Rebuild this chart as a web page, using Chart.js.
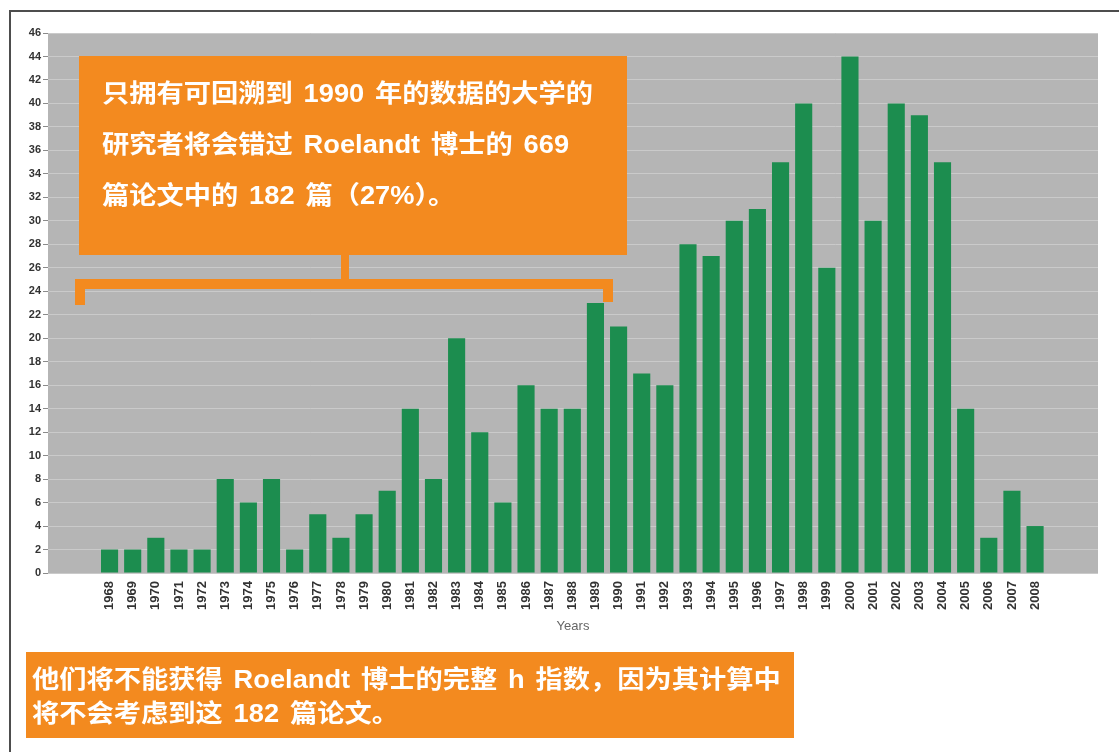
<!DOCTYPE html>
<html lang="zh-CN">
<head>
  <meta charset="UTF-8">
  <title>Roelandt 博士的论文（按年份）</title>
  <script src="https://cdn.jsdelivr.net/npm/chart.js"></script>
  <style>
    html, body {
      margin: 0;
      padding: 0;
      background: #fff;
    }
    body {
      width: 1119px;
      height: 752px;
      position: relative;
      overflow: hidden;
      font-family: "Liberation Sans", Arial, "Noto Sans CJK SC", sans-serif;
    }
    #papersChart {
      position: absolute;
      left: 0;
      top: 0;
    }
    .frame {
      position: absolute;
      left: 9px;
      top: 10px;
      width: 1200px;
      height: 800px;
      border-top: 2px solid #4d4d4d;
      border-left: 2px solid #4d4d4d;
    }
    .orange {
      position: absolute;
      background: #f38a1f;
    }
    .note {
      color: #fff;
      font-weight: bold;
      font-size: 25px;
      word-spacing: 3px;
      box-sizing: border-box;
    }
    .note .txt {
      transform: scaleX(1.09);
      transform-origin: left top;
      white-space: nowrap;
    }
    #callout {
      left: 79px; top: 56px; width: 548px; height: 199px;
      padding: 12px 0 0 23px;
      line-height: 51px;
    }
    #footnote {
      left: 26px; top: 652px; width: 768px; height: 86px;
      padding: 10px 0 0 6px;
      line-height: 34px;
    }
  </style>
</head>
<body>
  <canvas id="papersChart" width="1119" height="752"></canvas>
  <div class="frame"></div>

  <!-- callout and its bracket over 1968-1989 -->
  <div class="orange note" id="callout"><div class="txt">只拥有可回溯到 1990 年的数据的大学的<br>研究者将会错过 Roelandt 博士的 669<br>篇论文中的 182 篇（27%）。</div></div>
  <div class="orange" style="left:341px; top:254px; width:8px; height:27px;"></div>
  <div class="orange" style="left:75px; top:279px; width:538px; height:10px;"></div>
  <div class="orange" style="left:75px; top:279px; width:10px; height:26px;"></div>
  <div class="orange" style="left:603px; top:279px; width:10px; height:23px;"></div>

  <div class="orange note" id="footnote"><div class="txt">他们将不能获得 Roelandt 博士的完整 h 指数，因为其计算中<br>将不会考虑到这 182 篇论文。</div></div>

  <script>
    // papers per year
    const years = [1968, 1969, 1970, 1971, 1972, 1973, 1974, 1975, 1976, 1977,
                   1978, 1979, 1980, 1981, 1982, 1983, 1984, 1985, 1986, 1987,
                   1988, 1989, 1990, 1991, 1992, 1993, 1994, 1995, 1996, 1997,
                   1998, 1999, 2000, 2001, 2002, 2003, 2004, 2005, 2006, 2007, 2008];
    const papers = [2, 2, 3, 2, 2, 8, 6, 8, 2, 5,
                    3, 5, 7, 14, 8, 20, 12, 6, 16, 14,
                    14, 23, 21, 17, 16, 28, 27, 30, 31, 35,
                    40, 26, 44, 30, 40, 39, 35, 14, 3, 7, 4];
    const yMax = 46;
    const yStep = 2;

    // gray plot background
    const plotBackground = {
      id: 'plotBackground',
      beforeDraw(chart) {
        const { ctx, chartArea: a } = chart;
        ctx.save();
        ctx.fillStyle = '#b5b5b5';
        ctx.fillRect(a.left, a.top, a.right - a.left, a.bottom - a.top);
        ctx.restore();
      }
    };

    const ctx = document.getElementById('papersChart').getContext('2d');
    new Chart(ctx, {
      type: 'bar',
      data: {
        datasets: [{
          label: 'Papers',
          data: years.map((y, i) => ({ x: y, y: papers[i] })),
          backgroundColor: '#1c8d4f',
          borderWidth: 0,
          barPercentage: 0.74,
          categoryPercentage: 1.0
        }]
      },
      options: {
        responsive: false,
        animation: false,
        layout: { padding: { top: 33, right: 21, left: 0, bottom: 118 } },
        plugins: {
          legend: { display: false },
          tooltip: { enabled: false }
        },
        scales: {
          x: {
            type: 'linear',
            offset: false,
            min: 1965.34,
            max: 2010.72,
            grid: { display: false, drawTicks: false },
            border: { display: false },
            afterBuildTicks: s => { s.ticks = years.map(v => ({ value: v })); },
            afterFit: s => { s.height = 61; },
            ticks: {
              autoSkip: false,
              minRotation: 90,
              maxRotation: 90,
              padding: 8,
              color: '#333',
              font: { family: 'Liberation Sans', size: 13, weight: 'bold' },
              callback: v => String(v)
            },
            title: {
              display: true,
              text: 'Years',
              color: '#666',
              padding: 0,
              font: { family: 'Liberation Sans', size: 13 }
            }
          },
          y: {
            min: 0,
            max: yMax,
            afterFit: s => { s.width = 48; },
            grid: { color: '#cacaca', tickColor: '#8a8a8a', tickLength: 5 },
            border: { display: false },
            ticks: {
              stepSize: yStep,
              padding: 2,
              color: '#333',
              font: { family: 'Liberation Sans', size: 11, weight: 'bold' }
            }
          }
        }
      },
      plugins: [plotBackground]
    });
  </script>
</body>
</html>
